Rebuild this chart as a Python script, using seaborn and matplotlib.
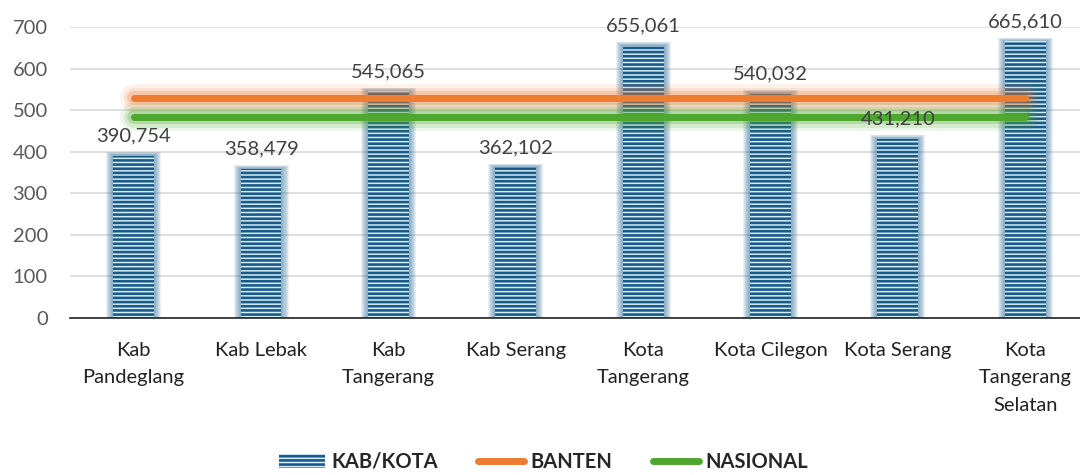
import numpy as np
import matplotlib
matplotlib.use("Agg")
import matplotlib.pyplot as plt
from matplotlib.patches import Patch
from matplotlib.lines import Line2D
import seaborn as sns

# data
categories = ["Kab\nPandeglang", "Kab Lebak", "Kab\nTangerang", "Kab Serang",
              "Kota\nTangerang", "Kota Cilegon", "Kota Serang", "Kota\nTangerang\nSelatan"]
kab_kota = [390.754, 358.479, 545.065, 362.102, 655.061, 540.032, 431.210, 665.610]
banten = [529.5, 529.5, 529.5, 529.5, 529.5, 529.5, 529.5, 529.5]
nasional = [482.7, 482.7, 482.7, 482.7, 482.7, 482.7, 482.7, 482.7]
y_ticks = [0, 100, 200, 300, 400, 500, 600, 700]

sns.set_theme(style="white")
plt.rcParams['font.family'] = ['Lato', 'DejaVu Sans']
plt.rcParams['hatch.linewidth'] = 1.9
plt.rcParams['hatch.color'] = '#1B5A86'

BAR_FACE = '#D2EEF9'
GLOW_BLUE = '#2A6A98'
ORANGE = '#ED7D31'
GREEN = '#4EA72E'
FS = 14.5

fig = plt.figure(figsize=(10.8, 4.75), dpi=100)
ax = fig.add_axes([70 / 1080, 1 - 318 / 475, 1010 / 1080, 291 / 475])

x = np.arange(len(categories))
bar_w = 0.32

# soft glow behind bars
for k in range(1, 8):
    ax.bar(x, np.array(kab_kota) + k * 1.3, width=bar_w + k * 0.016,
           color=GLOW_BLUE, alpha=0.10, linewidth=0, zorder=1)

sns.barplot(x=x, y=kab_kota, color=BAR_FACE, width=bar_w, ax=ax,
            saturation=1, zorder=2, native_scale=True)
for p in ax.patches[-len(categories):]:
    p.set_hatch('----')
    p.set_edgecolor('#1B5A86')
    p.set_linewidth(0)

# lines with glow
for vals, col in [(banten, ORANGE), (nasional, GREEN)]:
    for lw, a in [(20, 0.10), (15, 0.15), (10, 0.25)]:
        ax.plot(x, vals, color=col, lw=lw, alpha=a, solid_capstyle='round', zorder=3)
    ax.plot(x, vals, color=col, lw=5, solid_capstyle='round', zorder=4)

# data labels
for xi, v in zip(x, kab_kota):
    ax.annotate(f"{v:.3f}".replace('.', ','), (xi, v), xytext=(0, 8),
                textcoords='offset points', ha='center', va='bottom',
                fontsize=FS, color='#404040', zorder=5)

ax.set_xlim(-0.5, 7.43)
ax.set_ylim(0, 700)
ax.set_yticks(y_ticks)
ax.set_xticks(x)
ax.set_xticklabels(categories, fontsize=FS, color='#222222')
ax.tick_params(axis='y', labelsize=FS, labelcolor='#595959', length=0, pad=16)
ax.tick_params(axis='x', length=0, pad=17)
ax.yaxis.grid(True, color='#D9D9D9', lw=1.2)
ax.set_axisbelow(True)
for s in ['top', 'right', 'left']:
    ax.spines[s].set_visible(False)
ax.spines['bottom'].set_color('#222222')
ax.spines['bottom'].set_linewidth(1.2)
ax.set_xlabel('')

handles = [
    Patch(facecolor=BAR_FACE, edgecolor='#1B5A86', hatch='----', linewidth=0, label='KAB/KOTA'),
    Line2D([0], [0], color=ORANGE, lw=5, solid_capstyle='round', label='BANTEN'),
    Line2D([0], [0], color=GREEN, lw=5, solid_capstyle='round', label='NASIONAL'),
]
fig.legend(handles=handles, loc='center', bbox_to_anchor=(0.503, 0.028), ncol=3,
           frameon=False, handlelength=2.3, handletextpad=0.3, columnspacing=2.0,
           prop={'weight': 'bold', 'size': FS})

# wider line spacing for the wrapped category names
fig.canvas.draw()
for tick in ax.xaxis.get_major_ticks():
    tick.label1.set_linespacing(1.75)

fig.savefig('out.png', dpi=100)
